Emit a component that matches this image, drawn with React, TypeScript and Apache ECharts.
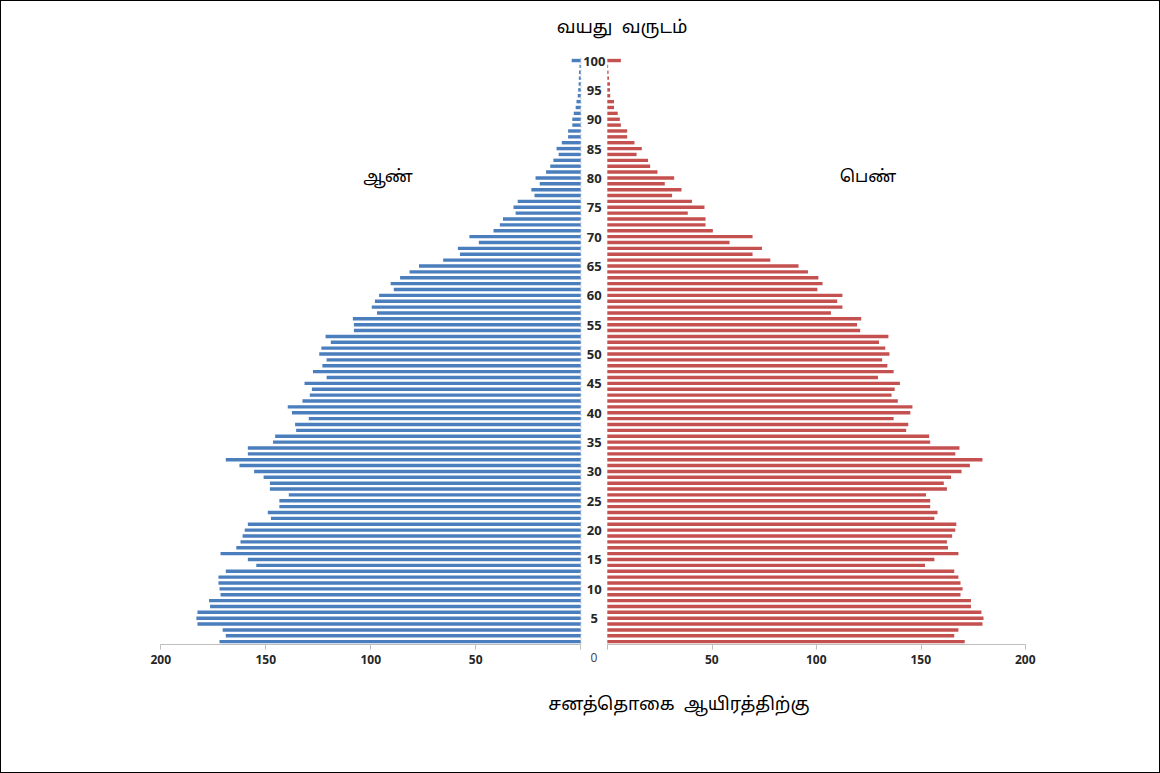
import React, { useEffect, useRef } from "react";
import * as echarts from "echarts";

const ages: string[] = Array.from({ length: 100 }, (_, i) => String(i + 1));

// Male population (thousands), ages 1..100
const maleValues: number[] = [
  172, 169, 170.5, 182.5, 183, 182.5, 176.5, 177, 171.5, 172,
  172.5, 172.5, 169, 154.5, 158.5, 171.5, 164, 162, 161, 160,
  158.5, 147.5, 149, 143.5, 143.5, 139, 148, 148, 151, 155.5,
  162.5, 169, 158.5, 158.5, 146.5, 145.5, 135.5, 136, 129.5, 137.5,
  139.5, 132.5, 129, 128, 131.5, 121, 127.5, 123, 121, 124.5,
  123.5, 119, 121.5, 108, 108, 108.5, 97, 99.5, 98, 96,
  89, 90.5, 86, 81.5, 77, 65.5, 57.5, 58.5, 48.5, 53,
  41.5, 38.5, 37, 31, 32, 30, 22, 23.5, 19.5, 21.5,
  16.5, 14.5, 13, 10.5, 11.5, 9, 6, 6, 4, 4,
  3.3, 2.4, 2, 1.4, 1.2, 1, 0.9, 0.8, 0.6, 4.3,
];

// Female population (thousands), ages 1..100
const femaleValues: number[] = [
  171, 166, 168, 179.5, 180, 179, 174, 174, 169, 170,
  169, 168, 166, 152, 156.5, 168, 163, 162.5, 165, 166.5,
  167, 156.5, 158, 154.5, 154.5, 152.5, 162.5, 161, 164.5, 169.5,
  173.5, 179.5, 166.5, 168.5, 154.5, 154, 143, 144, 137, 145,
  146, 139, 136, 137.5, 140, 129.5, 137, 134, 131.5, 135,
  133, 130, 134.5, 121, 119.5, 121.5, 107, 112.5, 110, 112.5,
  100.5, 103, 101, 96, 91.5, 78, 69.5, 74, 58.5, 69.5,
  50.5, 47, 47, 38.5, 46.5, 40.5, 31, 35.5, 27.5, 32,
  24, 20.5, 19.5, 14, 16.5, 13, 9.5, 9.5, 6.5, 6,
  5, 3.2, 3.2, 1.4, 1.3, 1.3, 0.8, 0.6, 0.4, 6.5,
];

const xTicks = { min: 0, max: 200, interval: 50 };

const titleText = "வயது  வருடம்";
const xTitleText = "சனத்தொகை  ஆயிரத்திற்கு";
const maleLabel = "ஆண்";
const femaleLabel = "பெண்";

const tamilFont = "'Noto Sans Tamil', 'Lohit Tamil', 'Latha', 'Noto Sans', 'DejaVu Sans', sans-serif";
const tickFont = "'Open Sans', 'Liberation Sans', sans-serif";

export default function App() {
  const ref = useRef<HTMLDivElement>(null);

  useEffect(() => {
    if (!ref.current) return;
    const chart = echarts.init(ref.current, null, { renderer: "svg" });

    const gridTop = 57.6;
    const gridHeight = 587;

    const xAxisCommon = (gridIndex: number, inverse: boolean) => ({
      type: "value" as const,
      gridIndex,
      inverse,
      min: xTicks.min,
      max: xTicks.max,
      interval: xTicks.interval,
      axisLine: { show: true, lineStyle: { color: "#bfbfbf", width: 1 } },
      axisTick: { show: true, length: 5, lineStyle: { color: "#bfbfbf" } },
      splitLine: { show: false },
      axisLabel: {
        margin: 9,
        color: "#262626",
        fontFamily: tickFont,
        fontWeight: "bold" as const,
        fontSize: 12,
        formatter: (v: number) => (v === 0 ? "" : String(v)),
      },
    });

    chart.setOption({
      animation: false,
      grid: [
        { left: 160.7, width: 420, top: gridTop, height: gridHeight },
        { left: 607.3, width: 418, top: gridTop, height: gridHeight },
      ],
      xAxis: [xAxisCommon(0, true), xAxisCommon(1, false)],
      yAxis: [
        {
          type: "category",
          gridIndex: 0,
          data: ages,
          axisLine: { show: false },
          axisTick: { show: false },
          axisLabel: { show: false },
          splitLine: { show: false },
        },
        {
          type: "category",
          gridIndex: 1,
          data: ages,
          axisLine: { show: false },
          axisTick: { show: false },
          splitLine: { show: false },
          axisLabel: {
            show: true,
            interval: (_idx: number, value: string) => Number(value) % 5 === 0,
            align: "center",
            margin: 13,
            color: "#262626",
            fontFamily: tickFont,
            fontWeight: "bold",
            fontSize: 13,
          },
        },
      ],
      series: [
        {
          type: "bar",
          name: maleLabel,
          xAxisIndex: 0,
          yAxisIndex: 0,
          data: maleValues,
          barWidth: 3.4,
          itemStyle: { color: "#4a7ebd" },
        },
        {
          type: "bar",
          name: femaleLabel,
          xAxisIndex: 1,
          yAxisIndex: 1,
          data: femaleValues,
          barWidth: 3.4,
          itemStyle: { color: "#c4504f" },
        },
      ],
      graphic: [
        {
          type: "line",
          shape: { x1: 581, y1: gridTop, x2: 581, y2: gridTop + gridHeight },
          style: { stroke: "#c4c4e6", lineWidth: 1, lineDash: [2, 2] },
          silent: true,
        },
        {
          type: "text",
          x: 622,
          y: 28,
          style: {
            text: titleText,
            fill: "#000",
            font: `18px ${tamilFont}`,
            textAlign: "center",
            textVerticalAlign: "middle",
          },
        },
        {
          type: "text",
          x: 679,
          y: 705,
          style: {
            text: xTitleText,
            fill: "#000",
            font: `18px ${tamilFont}`,
            textAlign: "center",
            textVerticalAlign: "middle",
          },
        },
        {
          type: "text",
          x: 388,
          y: 177,
          style: {
            text: maleLabel,
            fill: "#000",
            font: `17px ${tamilFont}`,
            textAlign: "center",
            textVerticalAlign: "middle",
          },
        },
        {
          type: "text",
          x: 868,
          y: 177,
          style: {
            text: femaleLabel,
            fill: "#000",
            font: `17px ${tamilFont}`,
            textAlign: "center",
            textVerticalAlign: "middle",
          },
        },
        {
          type: "text",
          x: 594,
          y: 657,
          style: {
            text: "0",
            fill: "#404040",
            font: `12px ${tickFont}`,
            textAlign: "center",
            textVerticalAlign: "middle",
          },
        },
      ],
    });

    return () => {
      chart.dispose();
    };
  }, []);

  return (
    <div
      style={{
        position: "fixed",
        left: 0,
        top: 0,
        width: 1160,
        height: 773,
        background: "#fff",
      }}
    >
      <div ref={ref} style={{ position: "absolute", left: 0, top: 0, width: 1160, height: 773 }} />
      <div
        style={{
          position: "absolute",
          left: 0,
          top: 0,
          width: 1160,
          height: 773,
          boxSizing: "border-box",
          border: "1.5px solid #000",
          pointerEvents: "none",
        }}
      />
    </div>
  );
}
